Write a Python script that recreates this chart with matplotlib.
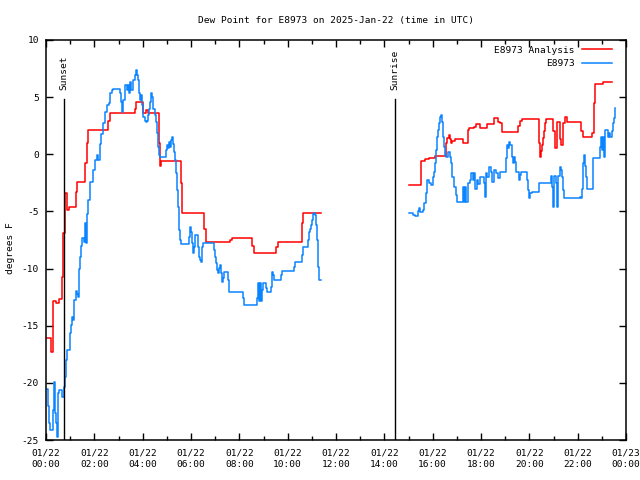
import matplotlib
matplotlib.use("Agg")
import matplotlib.pyplot as plt

# times are minutes after 2025-01-22 00:00 UTC, values in degrees F
analysis_t1 = [2, 12, 17, 25, 32, 40, 43, 47, 52, 57, 74, 77, 97, 102, 104, 154, 159,
               221, 223, 241, 248, 253, 281, 283, 286, 335, 338, 392, 397, 457, 462,
               511, 516, 571, 576, 636, 638, 683]
analysis_v1 = [-16.1, -17.3, -12.8, -13.0, -12.7, -10.7, -6.9, -3.4, -4.9, -4.6, -3.3, -2.4,
               -0.8, 1.0, 2.1, 2.9, 3.6, 4.0, 4.6, 3.6, 3.9, 3.6, 1.0, -1.0, -0.6, -2.5,
               -5.1, -6.5, -7.7, -7.5, -7.3, -8.0, -8.6, -8.1, -7.7, -6.0, -5.1, -5.1]

analysis_t2 = [901, 931, 941, 951, 966, 993, 996, 1001, 1003, 1006, 1008, 1015, 1035, 1048,
               1050, 1063, 1068, 1078, 1095, 1112, 1122, 1127, 1132, 1172, 1177, 1182,
               1224, 1226, 1229, 1231, 1234, 1236, 1239, 1241, 1244, 1259, 1264, 1269,
               1276, 1279, 1284, 1289, 1294, 1328, 1333, 1356, 1361, 1363, 1383, 1405]
analysis_v2 = [-2.7, -0.6, -0.4, -0.35, -0.15, 0.95, 1.4, 1.7, 1.3, 0.95, 1.2, 1.3, 0.95,
               2.1, 2.3, 2.4, 2.65, 2.3, 2.65, 3.2, 2.8, 2.7, 1.95, 2.5, 2.9, 3.1, 1.0,
               -0.25, 0.3, 0.8, 1.4, 2.0, 2.7, 3.1, 3.1, 2.0, 0.55, 2.8, 1.3, 0.8, 2.7,
               3.3, 2.8, 2.0, 1.5, 1.9, 4.5, 6.15, 6.3, 6.3]

obs_t1 = [2, 5, 7, 10, 17, 20, 22, 25, 27, 30, 32, 40, 45, 47, 50, 52, 60, 62, 65, 67,
          70, 74, 77, 79, 82, 84, 87, 89, 94, 97, 99, 102, 104, 109, 117, 122, 127, 129,
          134, 136, 142, 146, 151, 156, 159, 164, 166, 184, 186, 189, 191, 196, 201, 204,
          206, 209, 211, 216, 221, 223, 226, 228, 231, 233, 236, 238, 241, 246, 248, 251,
          253, 256, 258, 261, 263, 266, 271, 273, 276, 278, 281, 283, 298, 300, 303, 305,
          308, 310, 313, 315, 318, 320, 323, 325, 328, 330, 333, 335, 355, 357, 360, 362,
          365, 367, 370, 377, 380, 382, 385, 387, 390, 417, 420, 422, 425, 427, 430, 432,
          434, 437, 439, 442, 452, 455, 489, 492, 524, 526, 529, 531, 534, 536, 539, 546,
          549, 559, 561, 564, 566, 583, 586, 616, 618, 636, 638, 650, 653, 655, 658, 660,
          663, 665, 668, 670, 673, 675, 678, 683]
obs_v1 = [-20.5, -22.0, -23.5, -24.1, -22.4, -19.9, -22.6, -23.5, -24.7, -20.9, -20.6,
          -21.2, -20.4, -19.5, -18.0, -17.1, -15.6, -14.9, -14.2, -14.5, -12.75, -12.0,
          -12.2, -12.5, -10.0, -9.0, -8.0, -7.3, -7.7, -6.0, -7.8, -5.2, -4.0, -2.4, -1.4,
          -0.5, -0.1, -0.5, 0.9, 1.8, 2.7, 3.7, 4.3, 4.5, 5.4, 5.6, 5.7, 5.4, 4.6, 3.7,
          4.75, 6.1, 5.6, 6.1, 5.4, 6.3, 5.6, 6.5, 6.9, 7.4, 6.9, 6.5, 5.4, 4.75, 5.2, 4.3,
          3.3, 2.9, 2.8, 2.9, 3.4, 4.0, 4.6, 5.4, 5.0, 4.0, 3.4, 2.8, 1.9, 0.65, -0.06,
          -0.2, 0.4, 0.8, 0.55, 1.1, 0.65, 1.25, 1.5, 0.9, 0.2, -0.5, -1.6, -3.1, -4.6,
          -6.6, -7.5, -7.85, -7.2, -6.4, -6.8, -7.75, -8.6, -8.1, -7.1, -8.1, -9.0, -9.25,
          -9.4, -8.1, -7.75, -8.4, -9.0, -9.5, -10.1, -10.4, -9.95, -9.7, -10.4, -11.2,
          -10.8, -10.3, -11.0, -12.05, -12.6, -13.2, -12.6, -11.3, -12.8, -11.3, -12.8,
          -11.9, -11.3, -11.7, -12.05, -11.6, -10.3, -10.55, -11.0, -10.55, -10.2, -9.85,
          -9.45, -8.8, -8.1, -7.5, -6.8, -6.5, -6.2, -5.75, -5.2, -5.1, -5.3, -6.2, -7.5,
          -9.85, -11.0, -11.0]

obs_t2 = [901, 911, 916, 924, 926, 929, 936, 939, 943, 946, 951, 956, 961, 963, 966, 968,
          971, 973, 976, 978, 981, 983, 986, 988, 991, 993, 998, 1003, 1006, 1008, 1013,
          1018, 1020, 1035, 1038, 1040, 1043, 1048, 1053, 1055, 1060, 1063, 1065, 1070,
          1073, 1078, 1087, 1090, 1092, 1095, 1100, 1105, 1107, 1112, 1117, 1122, 1127,
          1142, 1145, 1147, 1150, 1152, 1157, 1159, 1162, 1164, 1167, 1174, 1177, 1179,
          1194, 1197, 1199, 1202, 1207, 1224, 1254, 1256, 1259, 1261, 1266, 1269, 1271,
          1276, 1279, 1281, 1284, 1286, 1326, 1328, 1331, 1333, 1336, 1338, 1341, 1343,
          1358, 1375, 1378, 1380, 1383, 1385, 1388, 1395, 1398, 1400, 1405, 1408, 1410,
          1413]
obs_v2 = [-5.1, -5.3, -5.4, -5.0, -4.7, -5.05, -4.9, -4.3, -3.4, -2.25, -2.5, -2.7, -2.0,
          -1.55, -0.8, 0.4, 1.5, 2.1, 2.7, 3.3, 3.45, 2.8, 1.5, 0.65, -0.06, -0.2, 0.2,
          -0.2, -0.8, -2.0, -2.9, -3.6, -4.2, -2.9, -4.2, -2.9, -4.2, -2.5, -2.25, -1.65,
          -2.25, -1.65, -3.0, -2.25, -2.6, -2.0, -2.5, -3.75, -1.65, -2.0, -1.1, -1.55,
          -2.4, -1.35, -1.65, -2.1, -1.55, -0.35, 0.8, 0.55, 1.1, 0.8, -0.25, -0.8, -0.25,
          -0.7, -1.55, -2.25, -1.8, -1.55, -2.25, -3.1, -3.8, -3.4, -3.3, -2.5, -1.9, -2.9,
          -4.6, -1.9, -2.5, -4.6, -1.9, -1.1, -1.35, -2.0, -3.1, -3.8, -3.7, -3.8, -3.0,
          -0.8, -0.06, -1.0, -2.0, -3.05, -0.35, 0.65, 1.5, 0.4, 1.5, -0.2, 2.1, 1.5, 1.85,
          1.5, 2.0, 2.7, 3.2, 4.05]

sunset_min = 45
sunrise_min = 866
tick_min = list(range(0, 1441, 120))
tick_labels = [f"01/22\n{h:02d}:00" for h in range(0, 24, 2)] + ["01/23\n00:00"]

font = "DejaVu Sans Mono"
fs = 6.8
red = "#ff0000"
blue = "#0a84ff"

fig = plt.figure(figsize=(6.4, 4.8), dpi=100)
ax = fig.add_axes([46 / 640, 40 / 480, 580 / 640, 400 / 480])

ax.plot(analysis_t1, analysis_v1, color=red, lw=1.1, drawstyle="steps-post",
        label="E8973 Analysis")
ax.plot(analysis_t2, analysis_v2, color=red, lw=1.1, drawstyle="steps-post")
ax.plot(obs_t1, obs_v1, color=blue, lw=1.1, drawstyle="steps-post", label="E8973")
ax.plot(obs_t2, obs_v2, color=blue, lw=1.1, drawstyle="steps-post")

for t, name in [(sunset_min, "Sunset"), (sunrise_min, "Sunrise")]:
    ax.plot([t, t], [-25, 4.8], color="black", lw=1)
    ax.text(t, 5.6, name, rotation=90, ha="center", va="bottom",
            family=font, fontsize=fs)

ax.set_xlim(0, 1440)
ax.set_ylim(-25, 10)
ax.set_xticks(tick_min)
ax.set_xticklabels(tick_labels, family=font, fontsize=fs, linespacing=1.45)
ax.set_xticks(range(60, 1440, 120), minor=True)
ax.set_yticks(range(-25, 11, 5))
ax.set_yticklabels([str(v) for v in range(-25, 11, 5)], family=font, fontsize=fs)
ax.tick_params(direction="in", top=True, right=True, length=5, width=1, pad=6)
ax.tick_params(axis="y", pad=5)
ax.tick_params(which="minor", direction="in", top=True, length=3, width=1)
for s in ax.spines.values():
    s.set_linewidth(1.1)

ax.set_ylabel("degrees F", family=font, fontsize=fs)
ax.yaxis.set_label_coords(-0.053, 0.48)
ax.set_title("Dew Point for E8973 on 2025-Jan-22 (time in UTC)", family=font,
             fontsize=fs, pad=12)

ax.legend(loc="upper right", bbox_to_anchor=(0.985, 1.0), frameon=False,
          markerfirst=False, prop={"family": font, "size": fs}, handlelength=3.1,
          borderaxespad=0.2, labelspacing=0.45, handletextpad=0.8)

fig.savefig("out.png", dpi=100)
